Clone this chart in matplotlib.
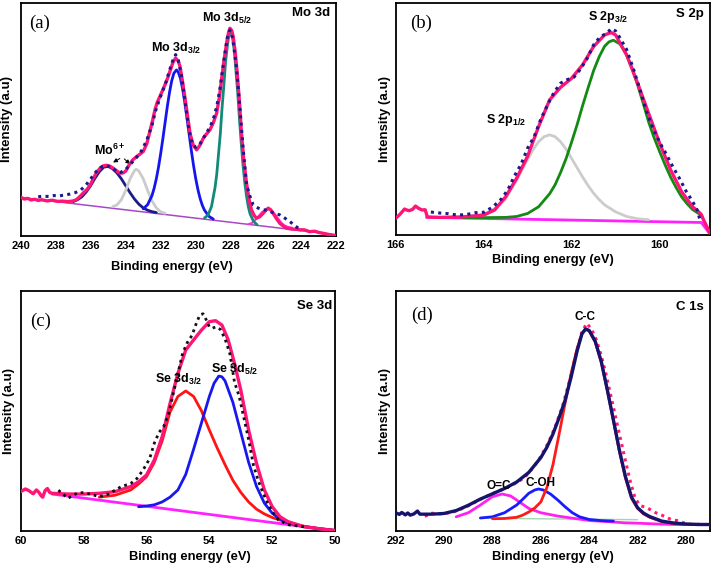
import numpy as np
import matplotlib
matplotlib.use("Agg")
import matplotlib.pyplot as plt

plt.rcParams['font.family'] = ['Liberation Sans', 'DejaVu Sans']
plt.rcParams['font.weight'] = 'bold'
plt.rcParams['mathtext.fontset'] = 'custom'
plt.rcParams['mathtext.rm'] = 'Liberation Sans:bold'
plt.rcParams['mathtext.it'] = 'Liberation Sans:bold'
plt.rcParams['mathtext.bf'] = 'Liberation Sans:bold'
plt.rcParams['mathtext.default'] = 'rm'
plt.rcParams['lines.solid_joinstyle'] = 'round'
plt.rcParams['lines.solid_capstyle'] = 'round'

# ---------------- (a) Mo 3d ----------------
a_env_x = [240.0, 239.8, 239.6, 239.4, 239.2, 239.0, 238.8, 238.5, 238.2, 237.9, 237.6, 237.3, 237.0,
           236.8, 236.6, 236.4, 236.2, 236.0, 235.85, 235.65, 235.47, 235.3, 235.1, 234.9, 234.7, 234.5,
           234.33, 234.15, 234.0, 233.8, 233.6, 233.38, 233.2, 233.0, 232.8, 232.62, 232.45, 232.33,
           232.2, 232.05, 231.9, 231.76, 231.6, 231.48, 231.3, 231.15, 231.0, 230.9, 230.75, 230.6,
           230.45, 230.33, 230.15, 229.95, 229.75, 229.57, 229.4, 229.19, 229.0, 228.81, 228.65, 228.53,
           228.4, 228.24, 228.12, 228.05, 227.95, 227.86, 227.75, 227.63, 227.5, 227.39, 227.25, 227.1,
           226.95, 226.82, 226.65, 226.53, 226.35, 226.15, 226.0, 225.86, 225.72, 225.58, 225.4, 225.2,
           225.0, 224.82, 224.5, 224.2, 224.06, 223.8, 223.5, 223.2, 223.0, 222.72, 222.4, 222.0]
a_env_y = [16.6, 15.8, 16.1, 15.4, 15.7, 15.2, 15.5, 15.0, 15.3, 14.8, 14.9, 14.7, 15.0,
           15.6, 17.0, 18.6, 20.0, 22.2, 24.7, 27.3, 29.0, 30.0, 30.3, 29.9, 29.0, 27.8,
           26.9, 27.0, 27.8, 30.5, 32.6, 34.0, 35.0, 36.2, 39.5, 44.8, 50.0, 54.1,
           57.3, 59.8, 62.3, 64.8, 67.8, 70.5, 74.5, 76.3, 75.0, 72.7, 66.0, 58.4,
           50.5, 44.1, 39.0, 36.9, 39.0, 41.9, 43.6, 45.5, 48.5, 52.6, 59.5, 67.0,
           74.5, 82.7, 87.5, 89.1, 88.2, 85.5, 79.0, 69.8, 57.0, 44.1, 32.0, 22.6,
           15.5, 11.2, 8.6, 7.6, 8.2, 9.7, 11.0, 11.9, 11.2, 9.7, 7.5, 5.4,
           4.2, 3.3, 2.9, 2.8, 2.6, 2.6, 1.8, 2.0, 1.5, 1.1, 0.6, 0.0]

a_dot_x = [239.0, 238.7, 238.4, 238.1, 237.8, 237.5, 237.2, 236.9, 236.6, 236.3, 236.0, 235.7, 235.4,
           235.1, 234.8, 234.5, 234.3, 234.0, 233.7, 233.4, 233.1, 232.8, 232.5, 232.3, 232.1, 231.9,
           231.7, 231.5, 231.3, 231.15, 231.0, 230.8, 230.6, 230.4, 230.2, 230.0, 229.8, 229.6, 229.4,
           229.2, 229.0, 228.8, 228.6, 228.4, 228.2, 228.05, 227.9, 227.7, 227.5, 227.3, 227.1, 226.9,
           226.72, 226.43, 226.15, 225.9, 225.67, 225.45, 225.2, 224.91, 224.63, 224.34, 224.06]
a_dot_y = [16.8, 17.0, 16.9, 17.3, 17.1, 17.6, 17.9, 18.5, 19.5, 21.5, 24.5, 27.5, 29.5,
           30.2, 29.3, 27.5, 27.2, 28.5, 31.0, 33.5, 36.5, 41.0, 47.5, 53.5, 58.0, 62.0,
           66.0, 71.0, 75.5, 77.8, 75.5, 68.0, 57.0, 46.0, 39.5, 38.0, 39.0, 41.5, 44.0,
           46.5, 50.0, 55.5, 64.0, 75.0, 85.0, 88.3, 85.0, 74.0, 57.0, 38.0, 22.0, 16.9,
           13.3, 11.9, 11.2, 11.0, 10.2, 9.6, 9.0, 7.6, 6.2, 4.3, 2.9]

a_mo6_x = [237.0, 236.75, 236.5, 236.25, 236.0, 235.75, 235.5, 235.25, 235.0, 234.75, 234.5, 234.25,
           234.0, 233.75, 233.5, 233.25, 233.0, 232.75, 232.5, 232.25]
a_mo6_y = [14.7, 15.5, 16.8, 18.9, 21.6, 24.8, 27.6, 29.5, 29.8, 28.8, 27.0, 24.5,
           21.5, 18.5, 15.8, 13.6, 12.0, 11.0, 10.4, 10.0]

a_gray_x = [234.75, 234.5, 234.25, 234.0, 233.75, 233.5, 233.4, 233.25, 233.0, 232.75, 232.5, 232.25,
            232.0, 231.75]
a_gray_y = [12.5, 13.3, 15.5, 19.5, 24.5, 28.0, 28.6, 27.8, 24.5, 19.5, 15.0, 12.0, 10.3, 9.7]

a_blue_x = [233.0, 232.75, 232.5, 232.375, 232.25, 232.125, 232.0, 231.875, 231.75, 231.625, 231.5,
            231.375, 231.25, 231.1, 231.0, 230.875, 230.75, 230.625, 230.5, 230.375, 230.25, 230.125,
            230.0, 229.875, 229.75, 229.625, 229.5, 229.25, 229.0]
a_blue_y = [11.6, 13.4, 17.3, 20.5, 24.6, 29.6, 35.5, 41.9, 48.7, 55.5, 61.5,
            66.5, 69.8, 71.2, 70.3, 67.6, 63.0, 57.2, 50.4, 43.4, 36.5, 30.1,
            24.5, 19.8, 16.0, 13.1, 11.0, 8.4, 7.2]

a_teal_x = [229.5, 229.3, 229.1, 228.9, 228.8, 228.7, 228.6, 228.5, 228.4, 228.3, 228.2, 228.1, 228.0,
            227.9, 227.8, 227.7, 227.6, 227.5, 227.4, 227.3, 227.2, 227.1, 227.0, 226.9, 226.7, 226.5]
a_teal_y = [7.7, 8.9, 12.6, 20.7, 26.5, 35.1, 43.5, 54.7, 64.0, 74.5, 81.2, 86.6, 87.7,
            85.0, 79.5, 70.4, 61.0, 49.6, 39.5, 30.3, 22.8, 17.0, 12.5, 9.5, 6.2, 4.8]

a_small_x = [227.0, 226.8, 226.6, 226.4, 226.2, 226.0, 225.85, 225.7, 225.5, 225.3, 225.1, 224.9, 224.7, 224.5]
a_small_y = [5.0, 5.5, 6.8, 8.6, 10.3, 11.2, 11.5, 11.0, 9.5, 7.5, 5.5, 4.3, 3.8, 3.5]

a_base_x = [240.0, 222.0]
a_base_y = [16.5, 0.5]

# ---------------- (b) S 2p ----------------
b_env_x = [166.0, 165.9, 165.8, 165.75, 165.7, 165.62, 165.55, 165.48, 165.4, 165.33, 165.28, 165.0,
           164.5, 164.0, 163.75, 163.5, 163.25, 163.0, 162.75, 162.5, 162.25, 162.0, 161.75, 161.5,
           161.25, 161.1, 161.0, 160.75, 160.5, 160.25, 160.0, 159.75, 159.5, 159.25, 159.1, 159.05,
           159.0, 158.85]
b_env_y = [7.2, 9.0, 11.2, 10.8, 10.5, 11.0, 12.5, 11.5, 10.8, 10.9, 7.8, 7.6,
           7.8, 8.6, 10.8, 16.5, 24.5, 34.0, 46.8, 58.3, 63.7, 67.6, 73.4, 81.3,
           86.3, 87.3, 86.3, 77.7, 65.5, 52.5, 39.6, 28.1, 18.7, 12.2, 9.8, 8.8,
           6.5, 0.7]

b_dot_x = [165.2, 165.0, 164.8, 164.6, 164.4, 164.2, 164.0, 163.8, 163.6, 163.45, 163.3, 163.15, 163.0,
           162.85, 162.7, 162.55, 162.4, 162.25, 162.1, 161.95, 161.8, 161.65, 161.5, 161.35, 161.2,
           161.1, 161.0, 160.9, 160.75, 160.6, 160.45, 160.3, 160.15, 160.0, 159.85, 159.7, 159.55,
           159.4, 159.25, 159.15, 159.08]
b_dot_y = [9.9, 9.5, 9.2, 8.6, 8.8, 9.6, 9.8, 12.0, 15.5, 19.5, 25.5, 30.5, 37.5,
           42.5, 50.0, 56.0, 61.5, 65.5, 67.0, 68.0, 71.5, 76.0, 82.0, 85.5, 87.0,
           89.0, 88.0, 85.0, 80.0, 72.0, 63.0, 53.5, 46.0, 40.0, 35.0, 29.5, 24.5,
           19.0, 14.5, 11.0, 6.5]

b_gray_x = [164.25, 164.0, 163.75, 163.5, 163.375, 163.25, 163.125, 163.0, 162.875, 162.75, 162.625,
            162.5, 162.375, 162.25, 162.125, 162.0, 161.875, 161.75, 161.625, 161.5, 161.375, 161.25,
            161.0, 160.75, 160.5, 160.25]
b_gray_y = [7.8, 8.9, 11.4, 15.5, 19.7, 23.5, 28.2, 32.5, 36.8, 40.3, 42.4,
            43.2, 42.4, 40.2, 37.0, 33.0, 29.0, 25.0, 21.3, 18.0, 15.3, 13.0,
            10.0, 8.0, 7.0, 6.6]

b_green_x = [164.5, 164.0, 163.5, 163.25, 163.0, 162.75, 162.5, 162.375, 162.25, 162.125, 162.0,
             161.875, 161.75, 161.625, 161.5, 161.375, 161.25, 161.15, 161.05, 160.9, 160.75, 160.625,
             160.5, 160.375, 160.25, 160.125, 160.0, 159.875, 159.75, 159.625, 159.5, 159.375, 159.25,
             159.05]
b_green_y = [7.5, 7.5, 7.6, 8.0, 9.3, 12.2, 17.8, 21.7, 27.0, 33.0, 40.1,
             47.6, 55.8, 63.5, 70.9, 76.8, 81.4, 83.3, 84.0, 82.4, 77.7, 71.8,
             64.7, 57.0, 48.8, 42.0, 36.0, 30.3, 25.0, 20.5, 16.5, 13.5, 11.0,
             8.5]

b_base_x = [165.3, 159.05, 158.85]
b_base_y = [7.6, 5.4, 0.3]

# ---------------- (c) Se 3d ----------------
c_env_x = [60.0, 59.85, 59.75, 59.6, 59.5, 59.42, 59.35, 59.3, 59.22, 59.15, 59.08, 59.0, 58.5,
           58.0, 57.5, 57.0, 56.5, 56.25, 56.0, 55.75, 55.5, 55.25, 55.0, 54.75, 54.5, 54.25,
           54.0, 53.8, 53.6, 53.4, 53.2, 53.0, 52.75, 52.5, 52.25, 52.0, 51.75, 51.5, 51.0,
           50.5, 50.0]
c_env_y = [16.3, 17.4, 16.8, 15.4, 17.0, 16.0, 14.6, 14.0, 16.8, 17.6, 16.0, 15.6, 15.3,
           15.3, 15.6, 16.3, 18.4, 20.4, 23.2, 29.5, 39.2, 53.1, 65.6, 75.4, 79.6, 83.7,
           87.2, 87.6, 85.8, 79.6, 69.8, 58.7, 42.0, 28.1, 17.0, 10.0, 5.8, 3.8, 1.7,
           0.8, 0.0]

c_dot_x = [58.8, 58.5, 58.2, 58.0, 57.8, 57.5, 57.2, 57.0, 56.8, 56.5, 56.3, 56.1, 55.9, 55.75,
           55.6, 55.45, 55.3, 55.15, 55.0, 54.85, 54.7, 54.55, 54.4, 54.3, 54.2, 54.1, 54.0, 53.9,
           53.8, 53.65, 53.5, 53.35, 53.2, 53.05, 52.9, 52.75, 52.6, 52.45, 52.3, 52.15, 52.0,
           51.8, 51.5, 51.2, 50.9]
c_dot_y = [16.9, 13.5, 15.7, 15.9, 15.3, 14.2, 15.3, 16.9, 18.4, 19.7, 21.8, 25.5, 30.0, 36.5,
           41.0, 43.5, 48.5, 57.0, 65.5, 74.0, 78.5, 81.5, 87.0, 90.0, 90.5, 88.0, 85.0, 84.5,
           85.0, 84.0, 80.0, 74.0, 62.0, 56.0, 47.0, 38.0, 27.5, 21.0, 16.0, 11.5, 8.0,
           4.5, 2.5, 2.0, 1.5]

c_red_x = [57.5, 57.0, 56.5, 56.25, 56.0, 55.75, 55.5, 55.25, 55.0, 54.75, 54.5, 54.25, 54.0,
           53.75, 53.5, 53.25, 53.0, 52.75, 52.5, 52.25, 52.0, 51.5, 51.0, 50.5, 50.0]
c_red_y = [14.0, 14.8, 17.0, 19.5, 22.5, 28.5, 37.5, 49.5, 56.0, 58.3, 56.0, 50.0, 42.0,
           34.5, 27.5, 21.0, 16.0, 12.0, 9.0, 7.0, 5.5, 3.4, 1.9, 0.9, 0.2]

c_blue_x = [56.25, 56.0, 55.75, 55.5, 55.25, 55.0, 54.75, 54.5, 54.25, 54.0, 53.85, 53.7, 53.6,
            53.5, 53.25, 53.0, 52.75, 52.5, 52.25, 52.0, 51.75, 51.5, 51.0, 50.5, 50.0]
c_blue_y = [10.0, 10.3, 10.8, 12.0, 14.0, 17.0, 23.5, 34.0, 45.0, 56.0, 61.5, 64.5, 64.2,
            62.5, 53.5, 41.0, 28.5, 18.5, 11.5, 7.3, 4.8, 3.2, 1.7, 0.8, 0.1]

c_base_x = [59.0, 50.0]
c_base_y = [15.3, 0.0]

# ---------------- (d) C 1s ----------------
d_env_x = [292.0, 291.85, 291.75, 291.6, 291.5, 291.4, 291.25, 291.1, 291.0, 290.5, 290.0, 289.5,
           289.0, 288.5, 288.0, 287.5, 287.0, 286.5, 286.0, 285.75, 285.5, 285.25, 285.0, 284.75,
           284.5, 284.3, 284.15, 284.0, 283.75, 283.5, 283.25, 283.0, 282.75, 282.5, 282.25, 282.0,
           281.75, 281.5, 281.0, 280.5, 280.0, 279.5, 279.0]
d_env_y = [7.5, 6.8, 7.6, 6.6, 7.4, 6.5, 7.0, 8.2, 6.9, 6.9, 7.2, 8.4,
           10.6, 13.2, 15.4, 17.6, 20.3, 24.3, 30.5, 34.8, 40.3, 47.0, 54.3, 64.0,
           75.0, 82.2, 84.2, 83.5, 79.0, 70.5, 58.7, 46.2, 33.5, 22.5, 14.0, 9.6,
           7.3, 5.9, 4.0, 3.2, 2.8, 2.6, 2.6]

d_dot_x = [290.8, 290.5, 290.2, 289.9, 289.6, 289.3, 289.0, 288.7, 288.4, 288.1, 287.8, 287.5, 287.2,
           286.9, 286.6, 286.3, 286.0, 285.7, 285.4, 285.1, 284.8, 284.5, 284.3, 284.1, 283.9, 283.7,
           283.5, 283.3, 283.1, 282.9, 282.7, 282.5, 282.3, 282.1, 281.9, 281.6, 281.25, 281.0,
           280.6, 280.35, 280.1, 279.7, 279.4]
d_dot_y = [6.0, 7.3, 7.0, 7.3, 7.9, 9.0, 10.4, 12.0, 13.6, 15.0, 16.3, 17.6, 19.0,
           20.6, 23.0, 26.5, 31.0, 36.5, 43.5, 52.0, 63.0, 75.5, 83.0, 86.5, 84.0, 79.5,
           73.0, 65.0, 56.0, 47.0, 38.0, 29.0, 20.5, 13.5, 10.5, 9.5, 7.5, 6.5,
           4.6, 4.2, 3.3, 2.4, 2.8]

d_red_x = [288.0, 287.5, 287.0, 286.75, 286.5, 286.25, 286.0, 285.75, 285.5, 285.25, 285.0, 284.75,
           284.5, 284.3, 284.15, 284.0, 283.75, 283.5, 283.25, 283.0, 282.75, 282.5, 282.25, 282.0,
           281.75, 281.5, 281.0, 280.5, 280.0, 279.0]
d_red_y = [5.0, 5.1, 5.6, 6.5, 7.8, 9.5, 12.0, 18.0, 27.5, 40.0, 53.0, 65.5,
           76.0, 82.0, 84.0, 83.3, 78.7, 70.3, 58.5, 46.0, 33.0, 22.0, 13.5, 9.3,
           7.0, 5.6, 3.8, 3.0, 2.7, 2.6]

d_blue_x = [288.5, 288.0, 287.5, 287.0, 286.75, 286.5, 286.25, 286.1, 285.9, 285.6, 285.3, 285.0,
            284.7, 284.4, 284.0, 283.5, 283.0]
d_blue_y = [5.3, 5.8, 7.5, 10.7, 13.1, 15.6, 17.0, 17.4, 17.0, 15.3, 12.8, 10.0,
            7.5, 5.8, 4.7, 4.2, 4.0]

d_mag_x = [289.5, 289.0, 288.5, 288.0, 287.6, 287.25, 287.0, 286.5, 286.0, 285.3, 284.6, 283.95,
           283.25, 282.55, 281.9, 281.2, 280.5, 279.0]
d_mag_y = [5.8, 7.5, 10.7, 14.2, 15.3, 14.5, 12.8, 9.3, 7.5, 6.1, 5.1, 4.2,
           3.8, 3.3, 3.1, 2.8, 2.6, 2.5]

d_base_x = [288.5, 282.0]
d_base_y = [5.2, 4.6]

# ---------------- figure ----------------
fig = plt.figure(figsize=(7.13, 5.67), dpi=100)
ax_a = fig.add_axes([0.029, 0.584, 0.442, 0.411])
ax_b = fig.add_axes([0.555, 0.5855, 0.441, 0.409])
ax_c = fig.add_axes([0.029, 0.064, 0.441, 0.4228])
ax_d = fig.add_axes([0.555, 0.064, 0.441, 0.4228])

dotted = (0, (1, 1.4))


def style(ax, xlim, ticks, label, corner, corner_xy, ylab_x, xlab_xy):
    ax.set_xlim(*xlim)
    ax.set_ylim(0, 100)
    ax.set_xticks(ticks)
    ax.set_xticklabels([str(t) for t in ticks], fontsize=8, fontweight='bold')
    ax.set_yticks([])
    ax.tick_params(axis='x', length=0, pad=3.5)
    for s in ax.spines.values():
        s.set_linewidth(1.3)
    ax.set_xlabel('Binding energy (eV)', fontsize=9.3, fontweight='bold', va='center')
    ax.xaxis.set_label_coords(xlab_xy[0], xlab_xy[1])
    ax.set_ylabel('Intensity (a.u)', fontsize=9.5, fontweight='bold', va='center')
    ax.yaxis.set_label_coords(ylab_x, 0.5)
    ax.text(label[1], label[2], label[0], family='Liberation Serif', fontweight='normal',
            fontsize=13.5, ha='center', va='center')
    ax.text(corner_xy[0], corner_xy[1], corner, fontsize=9.5, fontweight='bold', ha='right', va='center')


# (a)
ax = ax_a
ax.plot(a_base_x, a_base_y, color='#a648c8', lw=1.1, zorder=2)
ax.plot(a_small_x, a_small_y, color='#ff33dd', lw=1.5, zorder=2)
ax.plot(a_mo6_x, a_mo6_y, color='#1c1c86', lw=2.0, zorder=3)
ax.plot(a_gray_x, a_gray_y, color='#cbcbcb', lw=2.0, zorder=3)
ax.plot(a_blue_x, a_blue_y, color='#1515f0', lw=2.0, zorder=3)
ax.plot(a_teal_x, a_teal_y, color='#13897a', lw=2.0, zorder=3)
ax.plot(a_env_x, a_env_y, color='#ff1477', lw=2.4, zorder=4)
ax.plot(a_dot_x, a_dot_y, color='#1a1a8a', lw=2.2, ls=dotted, zorder=5)
style(ax, (240, 222), list(range(240, 221, -2)), ('(a)', 238.9, 91.3), 'Mo 3d', (222.35, 95.8),
      -0.043, (0.479, -0.133))
ax.text(231.1, 80.5, 'Mo 3d$_{3/2}$', fontsize=9, fontweight='bold', ha='center', va='center')
ax.text(228.24, 93.4, 'Mo 3d$_{5/2}$', fontsize=9, fontweight='bold', ha='center', va='center')
ax.text(234.9, 36.5, 'Mo$^{6+}$', fontsize=9, fontweight='bold', ha='center', va='center')
for end in [(234.86, 30.9), (233.63, 30.0)]:
    ax.annotate('', xy=end, xytext=(234.2, 33.8),
                arrowprops=dict(arrowstyle='-|>', color='black', lw=0.7, mutation_scale=6))

# (b)
ax = ax_b
ax.plot(b_base_x, b_base_y, color='#ff22ff', lw=2.0, zorder=2)
ax.plot(b_gray_x, b_gray_y, color='#cccccc', lw=2.0, zorder=3)
ax.plot(b_green_x, b_green_y, color='#138a13', lw=2.0, zorder=3)
ax.plot(b_env_x, b_env_y, color='#ff1477', lw=2.4, zorder=4)
ax.plot(b_dot_x, b_dot_y, color='#1a1a8a', lw=2.2, ls=dotted, zorder=5)
style(ax, (166, 158.85), [166, 164, 162, 160], ('(b)', 165.42, 91.4), 'S 2p', (159.0, 95.4),
      -0.035, (0.50, -0.108))
ax.text(163.48, 49.6, 'S 2p$_{1/2}$', fontsize=9, fontweight='bold', ha='center', va='center')
ax.text(161.16, 94.2, 'S 2p$_{3/2}$', fontsize=9, fontweight='bold', ha='center', va='center')

# (c)
ax = ax_c
ax.plot(c_base_x, c_base_y, color='#ff22ff', lw=2.0, zorder=2)
ax.plot(c_red_x, c_red_y, color='#ff1414', lw=2.0, zorder=3)
ax.plot(c_blue_x, c_blue_y, color='#1818ee', lw=2.0, zorder=3)
ax.plot(c_env_x, c_env_y, color='#ff1477', lw=2.4, zorder=4)
ax.plot(c_dot_x, c_dot_y, color='#111111', lw=2.0, ls=dotted, zorder=5)
style(ax, (60, 50), list(range(60, 49, -2)), ('(c)', 59.38, 87.2), 'Se 3d', (50.1, 93.7),
      -0.036, (0.539, -0.108))
ax.text(54.98, 63.1, 'Se 3d$_{3/2}$', fontsize=9, fontweight='bold', ha='center', va='center', zorder=6)
ax.text(53.18, 67.3, 'Se 3d$_{5/2}$', fontsize=9, fontweight='bold', ha='center', va='center', zorder=6)

# (d)
ax = ax_d
ax.plot(d_base_x, d_base_y, color='#9fd8b0', lw=1.0, zorder=2)
ax.plot(d_dot_x, d_dot_y, color='#ff1a70', lw=2.2, ls=dotted, zorder=3)
ax.plot(d_mag_x, d_mag_y, color='#ff22ee', lw=2.0, zorder=3)
ax.plot(d_blue_x, d_blue_y, color='#1a1aff', lw=2.0, zorder=3)
ax.plot(d_red_x, d_red_y, color='#ff1a1a', lw=2.0, zorder=3)
ax.plot(d_env_x, d_env_y, color='#14146e', lw=2.4, zorder=4)
style(ax, (292, 279), list(range(292, 279, -2)), ('(d)', 290.93, 90.0), 'C 1s', (279.25, 93.5),
      -0.035, (0.50, -0.108))
ax.text(284.16, 89.3, 'C-C', fontsize=8.5, fontweight='bold', ha='center', va='center')
ax.text(286.02, 20.0, 'C-OH', fontsize=8.5, fontweight='bold', ha='center', va='center', zorder=6)
ax.text(287.75, 18.6, 'O=C', fontsize=8.5, fontweight='bold', ha='center', va='center', zorder=6)

fig.savefig('out.png', dpi=100)
